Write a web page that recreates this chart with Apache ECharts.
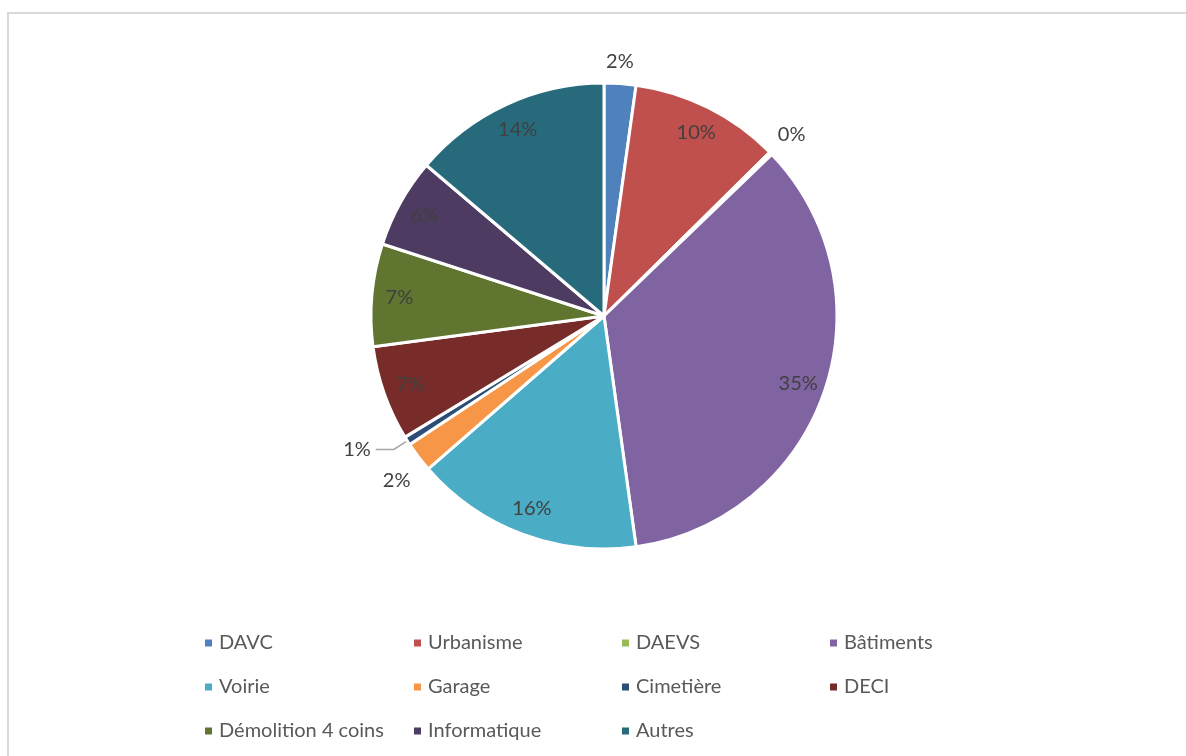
<!DOCTYPE html>
<html>
<head>
<meta charset="utf-8">
<title>Répartition</title>
<script src="https://cdn.jsdelivr.net/npm/echarts@6/dist/echarts.min.js"></script>
<style>
html, body { margin: 0; padding: 0; background: #fff; }
#chart { width: 1186px; height: 756px; }
</style>
</head>
<body>
<div id="chart"></div>
<script>
const categories = ["DAVC", "Urbanisme", "DAEVS", "Bâtiments", "Voirie", "Garage",
  "Cimetière", "DECI", "Démolition 4 coins", "Informatique", "Autres"];
const values = [2.2, 10.4, 0.2, 35.0, 15.8, 2.1, 0.6, 6.6, 7.1, 6.2, 13.8];
const colors = ["#4F81BD", "#C0504D", "#9BBB59", "#8064A2", "#4BACC6", "#F79646",
  "#2C4D75", "#772C2A", "#5F7530", "#4D3B62", "#276A7C"];
// étiquettes placées à l'extérieur des parts
const outsideLabels = ["DAVC", "DAEVS", "Garage", "Cimetière"];
// petits décalages des étiquettes extérieures (px)
const labelNudge = { DAVC: [-20, -8], DAEVS: [-8, -9], Garage: [8, 15] };

const font = "Lato, 'Liberation Sans', sans-serif";
const center = [604, 316];
const radius = 233;

const chart = echarts.init(document.getElementById("chart"));

//données de la série principale
const pieData = categories.map((name, i) => {
  return { name: name, value: values[i], itemStyle: { color: colors[i] } };
});

//données de la série d'étiquettes (transparente)
const labelData = categories.map((name, i) => {
  const outside = outsideLabels.indexOf(name) >= 0;
  const item = {
    name: name,
    value: values[i],
    label: { position: outside ? "outside" : "inside" },
    labelLine: { show: false, length: 14, length2: 0 },
  };
  if (name === "Cimetière") {
    item.labelLine = { show: true, length: 16, length2: 18, lineStyle: { color: "#A6A6A6", width: 1.5 } };
  }
  return item;
});

//légende en 4 colonnes (remplie ligne par ligne)
const legendLeft = [198, 407, 615, 823];
const legends = legendLeft.map((left, c) => {
  return {
    orient: "vertical",
    left: left,
    top: 627,
    itemWidth: 9,
    itemHeight: 9,
    itemGap: 22,
    icon: "rect",
    selectedMode: false,
    data: categories.filter((n, i) => i % 4 === c),
    textStyle: { fontFamily: font, fontSize: 20, lineHeight: 22, color: "#595959", padding: [0, 0, 0, 1] },
  };
});

const option = {
  animation: false,
  graphic: [
    {
      type: "rect",
      shape: { x: 8, y: 13, width: 1200, height: 800 },
      style: { fill: "none", stroke: "#D9D9D9", lineWidth: 2 },
      silent: true,
    },
  ],
  legend: legends,
  series: [
    {
      type: "pie",
      center: center,
      radius: [0, radius],
      startAngle: 90,
      clockwise: true,
      avoidLabelOverlap: false,
      label: { show: false },
      labelLine: { show: false },
      itemStyle: { borderColor: "#fff", borderWidth: 3 },
      emphasis: { disabled: true },
      data: pieData,
    },
    {
      type: "pie",
      center: center,
      radius: [172, radius],
      startAngle: 90,
      clockwise: true,
      silent: true,
      avoidLabelOverlap: false,
      itemStyle: { color: "transparent" },
      label: {
        show: true,
        fontFamily: font,
        fontSize: 20,
        color: "#404040",
        formatter: (p) => Math.round(p.percent) + "%",
      },
      labelLayout: (params) => {
        const nudge = labelNudge[categories[params.dataIndex]];
        return nudge ? { dx: nudge[0], dy: nudge[1] } : {};
      },
      emphasis: { disabled: true },
      data: labelData,
    },
  ],
};
chart.setOption(option);
</script>
</body>
</html>
